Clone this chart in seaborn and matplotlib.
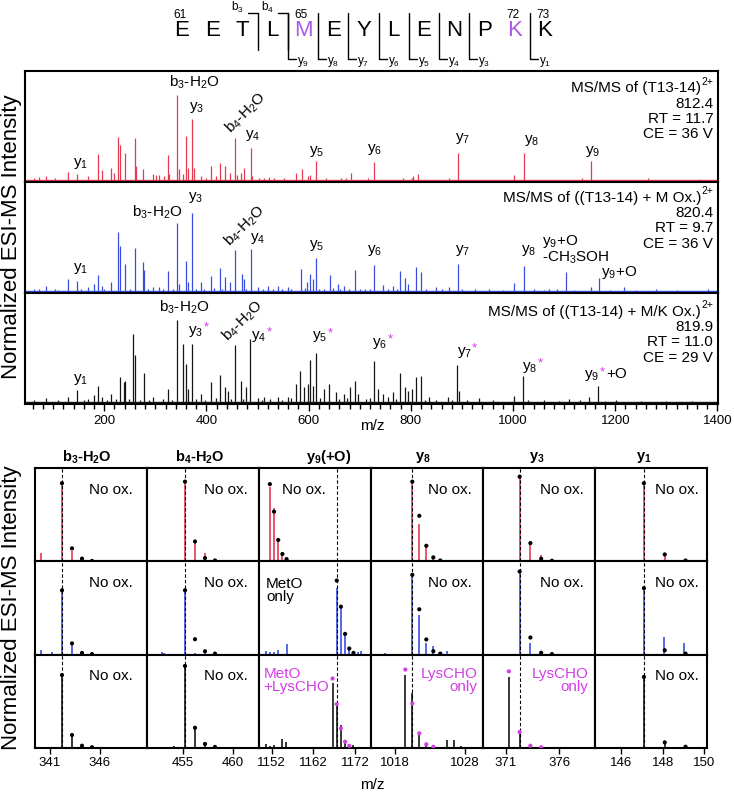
import seaborn as sns
import matplotlib.pyplot as plt
from matplotlib.ticker import MultipleLocator

sns.set_theme(style='white')
plt.rcParams['font.family'] = ['Liberation Sans', 'DejaVu Sans']
plt.rcParams['mathtext.fontset'] = 'custom'
plt.rcParams['mathtext.rm'] = 'Liberation Sans'
plt.rcParams['mathtext.it'] = 'Liberation Sans:italic'
plt.rcParams['mathtext.bf'] = 'Liberation Sans:bold'
plt.rcParams['mathtext.default'] = 'regular'
plt.rcParams['axes.edgecolor'] = 'black'
plt.rcParams['text.color'] = 'black'
plt.rcParams['xtick.color'] = 'black'

RED = '#E63950'
BLUE = '#3A4FE0'
BLACK = '#151515'
MAGENTA = '#D43DE6'
PURPLE = '#AA5BE6'

# ---------------- peptide header ----------------
sequence = list('EETLMEYLENPKK')
modified = [4, 11]
residue_numbers = {0: '61', 4: '65', 11: '72', 12: '73'}
b_ions = [3, 4]
y_ions = [9, 8, 7, 6, 5, 4, 3, 1]

# ---------------- full MS/MS spectra (m/z, % of panel) ----------------
red_mz = [62.9, 72.7, 85.7, 103.3, 129.4, 147.1, 168.6, 186.9, 194.7, 213.0, 218.2, 226.0,
          231.2, 241.0, 259.3, 261.9, 275.0, 294.6, 301.1, 307.6, 316.1, 323.9, 326.5, 342.2,
          345.5, 353.3, 359.8, 363.1, 372.2, 374.8, 389.2, 399.0, 408.8, 418.5, 426.4, 436.8,
          446.0, 455.2, 459.0, 467.5, 472.7, 486.3, 489.0, 503.4, 513.2, 523.0, 532.8, 552.3,
          575.2, 586.3, 598.0, 603.2, 615.3, 633.9, 663.3, 673.1, 682.8, 715.5, 728.4, 784.0,
          802.2, 804.8, 813.3, 875.3, 891.5, 1002.6, 1020.5, 1134.4, 1151.6, 1263.6, 1364.8]
red_int = [1.8, 2.7, 3.0, 1.2, 6.8, 5.0, 3.6, 22.8, 8.6, 10.7, 6.5, 38.6,
           30.9, 23.7, 37.4, 12.5, 9.5, 5.0, 4.0, 4.0, 3.6, 22.0, 5.0, 76.3,
           9.5, 5.0, 39.2, 11.0, 54.9, 10.7, 3.0, 2.0, 12.5, 3.0, 15.4, 12.5,
           5.9, 37.7, 4.0, 6.5, 10.7, 29.0, 3.6, 2.0, 2.0, 2.4, 2.0, 1.2,
           5.9, 9.5, 3.6, 4.7, 16.6, 1.8, 1.8, 2.0, 5.9, 2.0, 16.3, 1.2,
           2.0, 3.0, 5.6, 1.5, 23.7, 4.0, 24.3, 1.8, 16.6, 1.2, 0.9]

blue_mz = [62.9, 72.7, 85.7, 103.3, 129.4, 147.1, 168.6, 180.3, 186.9, 194.7, 213.0, 226.0,
           231.2, 241.0, 259.3, 275.0, 276.9, 294.6, 307.6, 323.9, 342.2, 345.5, 359.8, 363.1,
           372.2, 389.2, 408.8, 426.4, 436.8, 446.0, 455.2, 469.4, 472.7, 486.3, 500.1, 519.7,
           539.3, 558.9, 585.0, 596.7, 602.6, 607.8, 615.3, 641.7, 656.7, 669.8, 690.7, 728.4,
           744.8, 764.4, 778.7, 788.5, 795.1, 810.1, 819.9, 849.2, 875.3, 891.5, 953.6, 1002.6,
           1020.5, 1071.1, 1103.5, 1151.6, 1167.6, 1217.9, 1279.9, 1381.1,
           110, 155, 200, 250, 285, 315, 335, 380, 395, 415, 430, 478, 510, 530, 548, 565,
           592, 620, 630, 648, 662, 678, 700, 710, 720, 755, 772, 830, 860, 900, 925, 980,
           1040, 1060, 1085, 1120, 1190, 1240, 1320]
blue_int = [1.5, 2.0, 3.9, 1.5, 11.0, 8.7, 3.3, 6.0, 14.0, 4.5, 7.5, 53.1,
            40.3, 23.9, 38.8, 26.0, 19.0, 3.0, 3.0, 17.6, 61.2, 6.0, 27.2, 7.5,
            70.1, 7.5, 13.4, 20.3, 12.8, 7.5, 36.7, 15.5, 10.4, 37.9, 3.0, 4.5,
            3.9, 3.0, 20.0, 7.5, 14.9, 10.4, 29.6, 14.0, 6.0, 4.5, 18.5, 23.3,
            5.0, 3.9, 17.9, 11.3, 6.0, 21.2, 17.3, 3.0, 3.0, 24.5, 2.0, 6.6,
            22.4, 2.0, 17.3, 3.0, 11.6, 3.0, 1.5, 1.2,
            1.0, 1.5, 2.0, 2.0, 1.5, 2.0, 1.5, 2.0, 1.8, 2.2, 2.0, 2.0, 1.5, 2.0, 1.5, 2.0,
            2.5, 2.0, 1.8, 2.2, 1.5, 2.0, 2.0, 1.5, 2.0, 2.0, 2.0, 1.5, 1.5, 1.2, 1.2, 1.0,
            1.2, 1.0, 1.2, 1.0, 1.0, 0.8, 0.8]

black_mz = [62.9, 85.7, 129.4, 147.1, 168.6, 180.3, 186.9, 194.7, 213.0, 222.8, 231.2, 239.1,
            241.0, 256.0, 259.3, 276.9, 294.6, 323.9, 342.2, 353.3, 359.8, 363.1, 371.2, 389.2,
            408.8, 426.4, 436.8, 441.4, 455.2, 467.5, 477.3, 485.3, 500.1, 513.2, 539.3, 558.9,
            575.2, 583.7, 591.5, 598.0, 602.6, 607.8, 614.3, 630.6, 640.4, 653.5, 669.8, 681.5,
            690.7, 695.9, 727.4, 735.0, 744.8, 754.6, 764.4, 778.7, 788.5, 795.1, 802.2, 810.1,
            819.9, 836.2, 872.1, 890.5, 894.9, 934.1, 1002.6, 1019.5, 1110.3, 1149.4, 1166.6, 1201.6,
            110, 160, 205, 248, 270, 288, 315, 333, 380, 397, 418, 448, 472, 508, 525, 548,
            566, 622, 660, 675, 712, 720, 770, 828, 850, 880, 910, 960, 1030, 1060, 1090, 1130,
            1180, 1250, 1300, 1350]
black_int = [1.5, 3.0, 3.9, 10.6, 2.4, 6.0, 14.5, 3.9, 7.0, 2.4, 22.4, 17.6,
             19.0, 61.2, 41.8, 26.0, 3.9, 11.5, 73.3, 51.8, 34.2, 11.5, 52.4, 7.0,
             18.2, 24.2, 13.0, 10.0, 51.5, 19.0, 13.0, 57.0, 3.0, 3.9, 3.9, 3.9,
             16.0, 27.3, 13.0, 16.0, 37.9, 14.5, 44.2, 11.5, 16.0, 8.5, 7.0, 13.0,
             19.0, 7.0, 36.4, 11.5, 7.0, 3.9, 8.5, 26.0, 13.0, 10.0, 11.5, 22.0,
             23.6, 3.9, 3.9, 32.7, 10.0, 3.0, 5.5, 23.0, 2.4, 3.9, 13.9, 1.5,
             1.2, 1.5, 2.0, 2.5, 2.0, 2.0, 2.5, 2.0, 2.5, 2.0, 3.0, 2.5, 2.5, 2.0, 2.5, 2.0,
             3.0, 3.0, 2.5, 3.0, 2.5, 3.0, 2.5, 2.0, 1.5, 1.5, 1.2, 1.2, 1.5, 1.2, 1.0, 1.2,
             1.0, 0.8, 0.8, 0.8]

# peak labels: text, peak m/z, dx, dy (pixels), rotation, ha, asterisk
red_labels = [
    (r'y$_1$', 147.1, 3, 11, 0, 'center', False),
    (r'b$_3$-H$_2$O', 342.2, 17, 13, 0, 'center', False),
    (r'y$_3$', 372.2, 4, 11, 0, 'center', False),
    (r'b$_4$-H$_2$O', 455.2, 11, 25, 45, 'center', False),
    (r'y$_4$', 486.3, 2, 12, 0, 'center', False),
    (r'y$_5$', 615.3, 0, 10, 0, 'center', False),
    (r'y$_6$', 728.4, 0, 12, 0, 'center', False),
    (r'y$_7$', 891.5, 5, 15, 0, 'center', False),
    (r'y$_8$', 1020.5, 8, 12, 0, 'center', False),
    (r'y$_9$', 1151.6, 2, 10, 0, 'center', False),
]
blue_labels = [
    (r'y$_1$', 147.1, 3, 13, 0, 'center', False),
    (r'b$_3$-H$_2$O', 342.2, -20, 11, 0, 'center', False),
    (r'y$_3$', 372.2, 3, 15, 0, 'center', False),
    (r'b$_4$-H$_2$O', 455.2, 10, 24, 45, 'center', False),
    (r'y$_4$', 486.3, 7, 10, 0, 'center', False),
    (r'y$_5$', 615.3, 0, 12, 0, 'center', False),
    (r'y$_6$', 728.4, 0, 14, 0, 'center', False),
    (r'y$_7$', 891.5, 5, 13, 0, 'center', False),
    (r'y$_8$', 1020.5, 5, 15, 0, 'center', False),
    ('y$_9$+O\n-CH$_3$SOH', 1103.5, -24, 22, 0, 'left', False),
    (r'y$_9$+O', 1167.6, 2, 5, 0, 'left', False),
]
black_labels = [
    (r'y$_1$', 147.1, 3, 11, 0, 'center', False),
    (r'b$_3$-H$_2$O', 342.2, 7, 13, 0, 'center', False),
    (r'y$_3$', 371.2, 4, 12, 0, 'center', True),
    (r'b$_4$-H$_2$O', 455.2, 8, 24, 45, 'center', False),
    (r'y$_4$', 485.3, 9, 2, 0, 'center', True),
    (r'y$_5$', 614.3, 4, 16, 0, 'center', True),
    (r'y$_6$', 727.4, 6, 18, 0, 'center', True),
    (r'y$_7$', 890.5, 7, 13, 0, 'center', True),
    (r'y$_8$', 1019.5, 7, 9, 0, 'center', True),
    ('y9*+O', 1166.6, 1, 8, 0, 'right', True),
]
red_info = ['MS/MS of (T13-14)', '812.4', 'RT = 11.7', 'CE = 36 V']
blue_info = ['MS/MS of ((T13-14) + M Ox.)', '820.4', 'RT = 9.7', 'CE = 36 V']
black_info = ['MS/MS of ((T13-14) + M/K Ox.)', '819.9', 'RT = 11.0', 'CE = 29 V']

# ---------------- zoomed isotope windows ----------------
col_titles = [r'b$_3$-H$_2$O', r'b$_4$-H$_2$O', r'y$_9$(+O)', r'y$_8$', r'y$_3$', r'y$_1$']
col_xlims = [(339.5, 350.7), (451.4, 462.6), (1149.0, 1175.8), (1014.6, 1030.6), (368.9, 379.3), (144.75, 150.13)]
col_ticks = [[341, 346], [455, 460], [1152, 1162, 1172], [1018, 1028], [371, 376], [146, 148, 150]]
col_mono = [342.2, 455.2, 1167.6, 1020.5, 372.3, 147.1]

# observed stems (m/z list, height list) for [red, blue, black] rows
obs = [
    [([340.1, 341.2, 342.2, 343.2, 344.2, 346.2], [0.09, 0.02, 0.84, 0.11, 0.02, 0.01]),
     ([340.1, 341.2, 342.2, 343.2, 344.2, 348.0], [0.05, 0.03, 0.69, 0.125, 0.02, 0.01]),
     ([342.2, 343.2, 344.2, 345.2], [0.78, 0.136, 0.021, 0.005])],
    [([453.0, 455.2, 456.2, 457.2, 458.2], [0.01, 0.857, 0.214, 0.09, 0.01]),
     ([452.9, 453.1, 455.2, 456.2, 457.2], [0.03, 0.02, 0.69, 0.02, 0.02]),
     ([453.0, 454.1, 455.2, 456.2, 457.2, 458.2], [0.01, 0.02, 0.878, 0.214, 0.04, 0.008])],
    [([1151.6, 1152.6, 1153.6, 1154.6, 1155.6], [0.80, 0.57, 0.23, 0.07, 0.02]),
     ([1150.6, 1151.6, 1152.6, 1153.6, 1155.7, 1167.6, 1168.6, 1169.6, 1170.6, 1171.6, 1172.6, 1173.4],
      [0.04, 0.03, 0.03, 0.047, 0.11, 0.71, 0.514, 0.222, 0.05, 0.02, 0.03, 0.04]),
     ([1150.6, 1151.6, 1152.6, 1154.5, 1155.5, 1166.6, 1167.6, 1168.6, 1169.6, 1170.6, 1171.6],
      [0.04, 0.02, 0.03, 0.09, 0.064, 0.69, 0.47, 0.24, 0.06, 0.03, 0.03])],
    [([1020.5, 1021.5, 1022.5, 1023.5], [0.85, 0.40, 0.16, 0.03]),
     ([1016.6, 1020.5, 1021.5, 1022.5, 1023.5, 1025.5], [0.02, 0.85, 0.424, 0.12, 0.09, 0.035]),
     ([1016.6, 1019.5, 1020.5, 1021.5, 1022.5, 1025.5, 1026.5, 1027.5],
      [0.01, 0.778, 0.589, 0.136, 0.03, 0.082, 0.082, 0.02])],
    [([372.3, 373.3, 374.3], [0.91, 0.197, 0.07]),
     ([372.3, 373.3, 374.3], [0.89, 0.12, 0.01]),
     ([371.3, 372.3, 373.3], [0.76, 0.171, 0.02])],
    [([145.0, 145.9, 147.1, 148.1], [0.005, 0.01, 0.84, 0.08]),
     ([147.1, 148.05, 149.04], [0.713, 0.19, 0.12]),
     ([147.1, 148.1, 149.1], [0.76, 0.064, 0.01])],
]
# theoretical isotope distributions (dots)
theo = [
    [([342.2, 343.2, 344.2, 345.2], [0.84, 0.14, 0.03, 0.005]),
     ([342.2, 343.2, 344.2, 345.2], [0.69, 0.12, 0.017, 0.005]),
     ([342.2, 343.2, 344.2, 345.2], [0.78, 0.136, 0.021, 0.005])],
    [([455.2, 456.2, 457.2, 458.2], [0.857, 0.214, 0.036, 0.01]),
     ([455.2, 456.2, 457.2, 458.2], [0.69, 0.165, 0.035, 0.01]),
     ([455.2, 456.2, 457.2, 458.2], [0.878, 0.214, 0.04, 0.008])],
    [([1151.6, 1152.6, 1153.6, 1154.6, 1155.6], [0.83, 0.535, 0.23, 0.08, 0.025]),
     ([1167.6, 1168.6, 1169.6, 1170.6, 1171.6], [0.795, 0.514, 0.222, 0.065, 0.018]),
     ([1166.6, 1167.6, 1168.6, 1169.6, 1170.6], [0.743, 0.468, 0.207, 0.064, 0.02])],
    [([1020.5, 1021.5, 1022.5, 1023.5, 1024.5], [0.857, 0.49, 0.168, 0.043, 0.01]),
     ([1020.5, 1021.5, 1022.5, 1023.5, 1024.5], [0.856, 0.486, 0.162, 0.036, 0.01]),
     ([1019.5, 1020.5, 1021.5, 1022.5, 1023.5], [0.839, 0.475, 0.154, 0.036, 0.01])],
    [([372.3, 373.3, 374.3, 375.3], [0.91, 0.197, 0.029, 0.007]),
     ([372.3, 373.3, 374.3, 375.3], [0.892, 0.183, 0.02, 0.005]),
     ([371.3, 372.3, 373.3, 374.3], [0.82, 0.168, 0.021, 0.005])],
    [([147.1, 148.1, 149.1], [0.84, 0.075, 0.01]),
     ([147.1, 148.1, 149.1], [0.713, 0.046, 0.01]),
     ([147.1, 148.1, 149.1], [0.76, 0.057, 0.01])],
]
# cell annotations: text, colour, x (axes frac), y (axes frac), ha
notes = [
    [('No ox.', 'k', 0.872, 0.767, 'right'), ('No ox.', 'k', 0.872, 0.767, 'right'), ('No ox.', 'k', 0.872, 0.767, 'right')],
    [('No ox.', 'k', 0.896, 0.767, 'right'), ('No ox.', 'k', 0.896, 0.767, 'right'), ('No ox.', 'k', 0.896, 0.767, 'right')],
    [('No ox.', 'k', 0.203, 0.767, 'left'), ('MetO\nonly', 'k', 0.062, 0.69, 'left'), ('MetO\n+LysCHO', 'm', 0.038, 0.72, 'left')],
    [('No ox.', 'k', 0.899, 0.767, 'right'), ('No ox.', 'k', 0.899, 0.767, 'right'), ('LysCHO\nonly', 'm', 0.949, 0.72, 'right')],
    [('No ox.', 'k', 0.904, 0.767, 'right'), ('No ox.', 'k', 0.904, 0.767, 'right'), ('LysCHO\nonly', 'm', 0.940, 0.72, 'right')],
    [('No ox.', 'k', 0.926, 0.767, 'right'), ('No ox.', 'k', 0.926, 0.767, 'right'), ('No ox.', 'k', 0.926, 0.767, 'right')],
]
title_x = [0.464, 0.473, 0.625, 0.467, 0.484, 0.44]
mag_dots = [False, False, True, True, True, False]

W, H = 734, 797
fig = plt.figure(figsize=(W / 100, H / 100), dpi=100)


def px_rect(left, top, width, height):
    return [left / W, 1 - (top + height) / H, width / W, height / H]


# ---- header with sequence and fragment brackets ----
hdr = fig.add_axes(px_rect(0, 0, W, 70))
hdr.set_xlim(0, W)
hdr.set_ylim(70, 0)
hdr.axis('off')
xs = [182 + 30.25 * i for i in range(len(sequence))]
for i, aa in enumerate(sequence):
    hdr.text(xs[i], 31, aa, fontsize=16, ha='center', va='center',
             color=PURPLE if i in modified else 'black')
for i, num in residue_numbers.items():
    hdr.text(xs[i] - 2, 15, num, fontsize=8.5, ha='center', va='center')
for n in b_ions:
    sx = (xs[n - 1] + xs[n]) / 2
    hdr.plot([sx - 10, sx, sx], [13, 13, 50], color='black', lw=1)
    hdr.text(sx - 20, 7, f'b$_{n}$', fontsize=8.5, ha='center', va='center')
for n in y_ions:
    i = len(sequence) - n
    sx = (xs[i - 1] + xs[i]) / 2
    hdr.plot([sx, sx, sx + 8], [13, 59, 59], color='black', lw=1)
    hdr.text(sx + 15, 62, f'y$_{n}$', fontsize=8.5, ha='center', va='center')

LABEL_FS = 11


def add_star(ax, t):
    ax.annotate('*', xy=(1, 0.75), xycoords=t, xytext=(0.5, 0), textcoords='offset pixels',
                ha='left', va='center', color=MAGENTA, fontsize=9.5)


# ---- full spectra ----
def spectrum(ax, mz, inten, color, labels, info, first_y):
    ax.vlines(mz, 0, inten, color=color, lw=0.9)
    ax.axhline(0, color=color, lw=1)
    ax.set_xlim(45, 1401)
    ax.set_ylim(-2, 98)
    ax.set_yticks([])
    peak = dict(zip(mz, inten))
    for text, x, dx, dy, rot, ha, star in labels:
        if text == 'y9*+O':
            t = ax.annotate(r'y$_9$', (x, peak[x]), xytext=(dx, dy), textcoords='offset pixels',
                            ha='right', va='baseline', fontsize=LABEL_FS)
            add_star(ax, t)
            ax.annotate('+O', (x, peak[x]), xytext=(dx + 7, dy), textcoords='offset pixels',
                        ha='left', va='baseline', fontsize=LABEL_FS)
            continue
        t = ax.annotate(text, (x, peak[x]), xytext=(dx, dy), textcoords='offset pixels',
                        ha=ha, va='center', rotation=rot, fontsize=LABEL_FS,
                        multialignment='left', linespacing=0.9)
        if star:
            add_star(ax, t)
    for k, line in enumerate(info):
        y = 1 - (first_y + 15.3 * k) / 111
        if k == 0:
            t = ax.text(0.9755, y, line, transform=ax.transAxes, ha='right', va='center', fontsize=LABEL_FS)
            ax.annotate('2+', xy=(1, 0.62), xycoords=t, xytext=(0.5, 0), textcoords='offset pixels',
                        ha='left', va='bottom', fontsize=7.5)
        else:
            ax.text(0.993, y, line, transform=ax.transAxes, ha='right', va='center', fontsize=LABEL_FS)
    for s in ax.spines.values():
        s.set_linewidth(1.5)
        s.set_color('black')


panels = [(red_mz, red_int, RED, red_labels, red_info, 17.3),
          (blue_mz, blue_int, BLUE, blue_labels, blue_info, 15.7),
          (black_mz, black_int, BLACK, black_labels, black_info, 18.7)]
top_axes = []
for k, (mz, inten, color, labels, info, fy) in enumerate(panels):
    ax = fig.add_axes(px_rect(25, 71 + 111 * k, 693, 111))
    spectrum(ax, mz, inten, color, labels, info, fy)
    top_axes.append(ax)
for ax in top_axes[:2]:
    ax.set_xticks([])
ax = top_axes[2]
ax.xaxis.set_major_locator(MultipleLocator(200))
ax.xaxis.set_minor_locator(MultipleLocator(20))
ax.tick_params(axis='x', which='major', bottom=True, direction='out', length=5, width=1, labelsize=9.5, pad=3)
ax.tick_params(axis='x', which='minor', bottom=True, direction='out', length=3.5, width=1)
fig.text(372 / W, 1 - 426 / H, 'm/z', ha='center', va='center', fontsize=11)

fig.text(12 / W, 1 - 237 / H, 'Normalized ESI-MS Intensity', rotation=90,
         ha='center', va='center', fontsize=16)
fig.text(12 / W, 1 - 608 / H, 'Normalized ESI-MS Intensity', rotation=90,
         ha='center', va='center', fontsize=16)

# ---- isotope window grid ----
row_colors = [RED, BLUE, BLACK]
cell_h = 93.13
for c in range(6):
    for r in range(3):
        ax = fig.add_axes(px_rect(35 + 112 * c, 468.3 + cell_h * r, 112, cell_h))
        ax.axvline(col_mono[c], color='black', lw=0.8, ls=(0, (3, 2)), zorder=3)
        mz, h = obs[c][r]
        ax.vlines(mz, 0, h, color=row_colors[r], lw=1.2, zorder=2)
        dmz, dh = theo[c][r]
        dot_color = MAGENTA if (r == 2 and mag_dots[c]) else 'black'
        sns.scatterplot(x=dmz, y=dh, ax=ax, color=dot_color, s=9, edgecolor='none',
                        legend=False, zorder=5)
        ax.set_xlim(*col_xlims[c])
        ax.set_ylim(0, 1)
        ax.set_yticks([])
        ax.set_ylabel('')
        text, tc, tx, ty, ha = notes[c][r]
        ax.text(tx, ty, text, transform=ax.transAxes, ha=ha, va='center', fontsize=11,
                color=MAGENTA if tc == 'm' else 'black', linespacing=0.95, multialignment=ha)
        if r == 0:
            ax.text(title_x[c], 1 + 11 / cell_h, col_titles[c], transform=ax.transAxes,
                    ha='center', va='center', fontsize=10.5, fontweight='bold')
        if r == 2:
            ax.set_xticks(col_ticks[c])
            ax.tick_params(axis='x', bottom=True, direction='out', length=4, width=1,
                           labelsize=9.5, pad=3)
        else:
            ax.set_xticks([])
        for s in ax.spines.values():
            s.set_linewidth(1.5)
            s.set_color('black')

fig.text(372 / W, 1 - 785 / H, 'm/z', ha='center', va='center', fontsize=11)

fig.savefig('out.png', dpi=100)
